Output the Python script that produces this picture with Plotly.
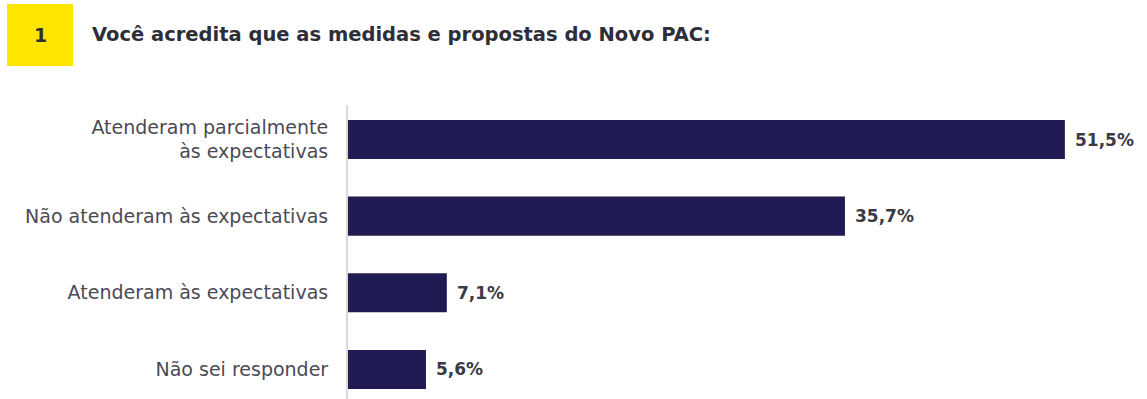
import plotly.graph_objects as go

categories = ["Atenderam parcialmente<br>às expectativas", "Não atenderam às expectativas",
              "Atenderam às expectativas", "Não sei responder"]
values = [51.5, 35.7, 7.1, 5.6]
value_labels = [f"{v:.1f}".replace(".", ",") + "%" for v in values]
title_text = "Você acredita que as medidas e propostas do Novo PAC:"
badge_text = "1"

W, H = 1147, 399
L, R, T, B = 348, 0, 105, 0
pw, ph = W - L - R, H - T - B

def px(x):
    return (x - L) / pw

def py(y):
    return (H - B - y) / ph

FONT = "DejaVu Sans"

fig = go.Figure(go.Bar(
    x=values, y=categories, orientation="h",
    marker=dict(color="#201b52", line=dict(width=0)),
    width=0.51, hoverinfo="skip",
))

for v, c, t in zip(values, categories, value_labels):
    fig.add_annotation(x=v, y=c, text=f"<b>{t}</b>", showarrow=False, xanchor="left", xshift=8,
                       font=dict(family=FONT, size=17, color="#3a3a44"))

fig.add_shape(type="rect", xref="paper", yref="paper",
              x0=px(7), x1=px(73), y0=py(66), y1=py(4),
              fillcolor="#ffe600", line=dict(width=0))
fig.add_annotation(xref="paper", yref="paper", x=px(40), y=py(35), text=f"<b>{badge_text}</b>",
                   showarrow=False, xanchor="center", yanchor="middle",
                   font=dict(family=FONT, size=19, color="#2e2e38"))
fig.add_annotation(xref="paper", yref="paper", x=px(90), y=py(35), text=f"<b>{title_text}</b>",
                   showarrow=False, xanchor="left", yanchor="middle",
                   font=dict(family=FONT, size=19.5, color="#2e2e38"))

fig.update_layout(
    width=W, height=H, margin=dict(l=L, r=R, t=T, b=B),
    paper_bgcolor="white", plot_bgcolor="white", showlegend=False,
    xaxis=dict(range=[0, (W - L - R) / 13.92], visible=False),
    yaxis=dict(categoryorder="array", categoryarray=categories, range=[3.385, -0.45],
               showline=True, linecolor="#d9d9d9", linewidth=2, ticks="",
               showgrid=False, zeroline=False, ticklabelstandoff=14,
               tickfont=dict(family=FONT, size=19, color="#4a4a55")),
)
fig.write_html("out.html")
